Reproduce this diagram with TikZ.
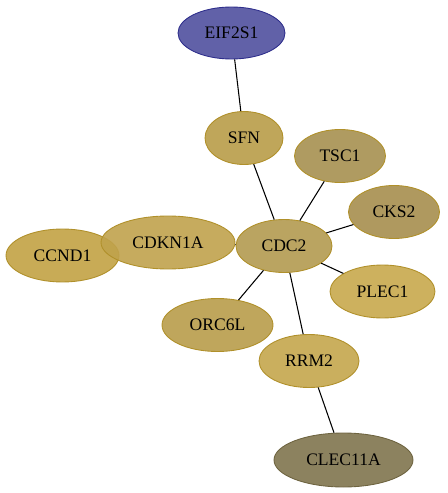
\documentclass[tikz,border=0pt]{standalone}
\usepackage{fontspec}
\setmainfont{Liberation Serif}
\usetikzlibrary{shapes,arrows}
\definecolor{blueprot}{HTML}{50509E}
\definecolor{blueline}{HTML}{2E2E8C}
\definecolor{goldline}{HTML}{B0902A}
\definecolor{cSFN}{HTML}{B89C48}
\definecolor{cTSC}{HTML}{A69050}
\definecolor{cCKS}{HTML}{A68E4E}
\definecolor{cCDC}{HTML}{B29A50}
\definecolor{cCDKN}{HTML}{C0A24C}
\definecolor{cCCND}{HTML}{C2A244}
\definecolor{cPLEC}{HTML}{C8A84C}
\definecolor{cORC}{HTML}{B89C4A}
\definecolor{cRRM}{HTML}{C4A64C}
\definecolor{cCLEC}{HTML}{80744E}
\definecolor{clecline}{HTML}{6E6440}

\begin{document}
\begin{tikzpicture}[x=0.02cm,y=-0.02cm,
	gene/.style={ellipse, draw=goldline, line width=0.5pt, fill opacity=0.9, text opacity=1, inner sep=0pt, minimum height=1.06cm, font=\fontsize{10}{12}\selectfont},
	link/.style={black, line width=0.6pt}]
	
	% Page size
	\useasboundingbox (0,0) rectangle (447,493);
	
	% Draw proteins
	\node[gene, fill=blueprot, draw=blueline, minimum width=2.14cm, minimum height=1.04cm] (eif) at (231.5,33) {EIF2S1};
	\node[gene, fill=cSFN, minimum width=1.56cm] (sfn) at (244,138) {SFN};
	\node[gene, fill=cTSC, minimum width=1.82cm] (tsc) at (340,156) {TSC1};
	\node[gene, fill=cCKS, minimum width=1.82cm] (cks) at (394,212) {CKS2};
	\node[gene, fill=cCDC, minimum width=1.92cm] (cdc) at (284,246) {CDC2};
	\node[gene, fill=cCCND, minimum width=2.26cm] (ccnd) at (62.5,255.5) {CCND1};
	\node[gene, fill=cCDKN, minimum width=2.68cm] (cdkn) at (168,242.5) {CDKN1A};
	\node[gene, fill=cPLEC, minimum width=2.1cm] (plec) at (382.5,291.5) {PLEC1};
	\node[gene, fill=cORC, minimum width=2.22cm] (orc) at (217.5,325) {ORC6L};
	\node[gene, fill=cRRM, minimum width=2cm] (rrm) at (309,361) {RRM2};
	\node[gene, fill=cCLEC, draw=clecline, minimum width=2.78cm, minimum height=1.08cm] (clec) at (343.5,460) {CLEC11A};
	
	% Draw interactions
	\draw[link] (eif) -- (sfn);
	\draw[link] (sfn) -- (cdc);
	\draw[link] (tsc) -- (cdc);
	\draw[link] (cks) -- (cdc);
	\draw[link] (plec) -- (cdc);
	\draw[link] (orc) -- (cdc);
	\draw[link] (rrm) -- (cdc);
	\draw[link] (cdkn) -- (cdc);
	\draw[link] (rrm) -- (clec);
	
\end{tikzpicture}
\end{document}
